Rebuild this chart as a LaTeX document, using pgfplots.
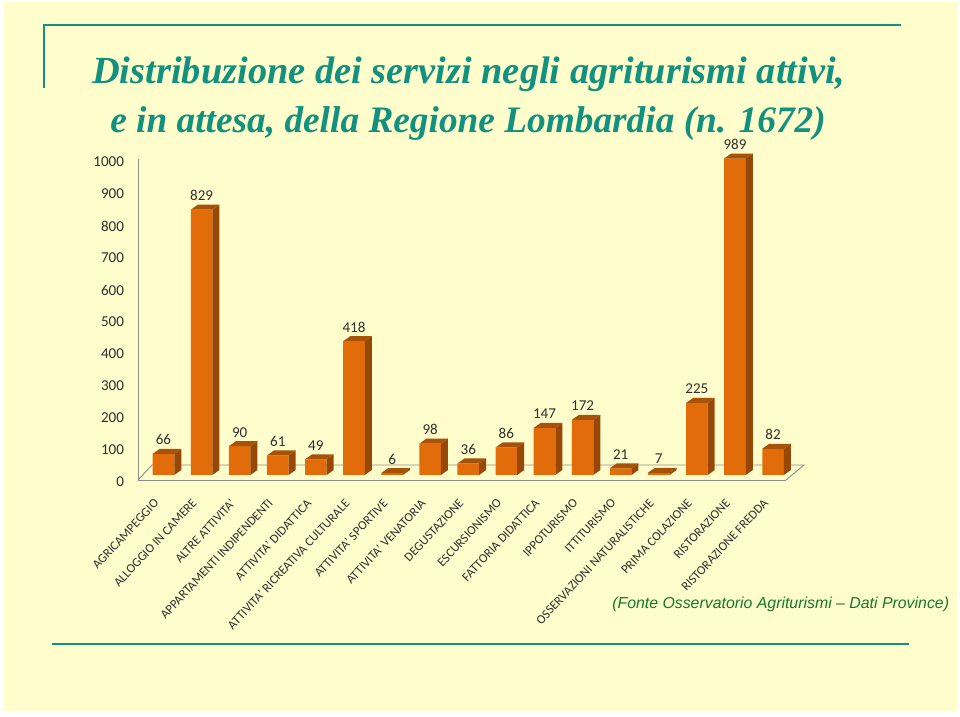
\documentclass[border=0pt]{standalone}
\usepackage{fontspec}
\setmainfont{Carlito}
\newfontfamily\titlefont{Liberation Serif}
\newfontfamily\notefont{Liberation Sans}
\usepackage{pgfplots}
\usepackage{pgfplotstable}
\pgfplotsset{compat=1.18}
\definecolor{slidebg}{HTML}{FFFDCC}
\definecolor{teal}{HTML}{12917F}
\definecolor{barfront}{HTML}{E36C0A}
\definecolor{barside}{HTML}{974806}
\definecolor{bartop}{HTML}{A65208}
\definecolor{axisgray}{HTML}{8E8E88}
\definecolor{inkgray}{HTML}{303030}
\definecolor{notegreen}{HTML}{14782A}

\pgfplotstableread{
x y
0 66
1 829
2 90
3 61
4 49
5 418
6 6
7 98
8 36
9 86
10 147
11 172
12 21
13 7
14 225
15 989
16 82
}\servizi

% side and top faces of a bar, drawn from the bar's front top centre
\pgfdeclareplotmark{bardepth}{%
  \pgfmathsetlengthmacro\barh{\barval*0.24pt}%
  \pgfsetfillcolor{barside}%
  \pgfpathmoveto{\pgfqpoint{8.1pt}{0pt}}%
  \pgfpathlineto{\pgfqpoint{13.35pt}{3.75pt}}%
  \pgfpathlineto{\pgfpoint{13.35pt}{3.75pt-\barh}}%
  \pgfpathlineto{\pgfpoint{8.1pt}{-\barh}}%
  \pgfpathclose
  \pgfusepathqfill
  \pgfsetfillcolor{bartop}%
  \pgfpathmoveto{\pgfqpoint{-8.1pt}{0pt}}%
  \pgfpathlineto{\pgfqpoint{-2.85pt}{3.75pt}}%
  \pgfpathlineto{\pgfqpoint{13.35pt}{3.75pt}}%
  \pgfpathlineto{\pgfqpoint{8.1pt}{0pt}}%
  \pgfpathclose
  \pgfusepathqfill
}

\begin{document}
\begin{tikzpicture}
\path[use as bounding box] (0,0) rectangle (720pt,537.75pt);
\fill[white] (0,0) rectangle (720pt,537.75pt);
\begin{scope}[x=0.75pt,y=-0.75pt,yshift=537.75pt]
  \fill[slidebg] (4,2) rectangle (957,711);
  \draw[teal,line width=2pt] (44,88) -- (44,25) -- (901,25);
  \draw[teal,line width=2pt] (52,644) -- (909,644);
  \node[anchor=base west,inner sep=0pt,text=teal,font=\titlefont\bfseries\itshape\fontsize{28.8pt}{32pt}\selectfont] at (92,84) {Distribuzione dei servizi negli agriturismi attivi,};
  \node[anchor=base west,inner sep=0pt,text=teal,font=\titlefont\bfseries\itshape\fontsize{28pt}{32pt}\selectfont] at (110,133) {e in attesa, della Regione Lombardia (n. 1672)};
  \node[anchor=base west,inner sep=0pt,text=notegreen,font=\notefont\itshape\fontsize{11.9pt}{14pt}\selectfont] at (612,609) {(Fonte Osservatorio Agriturismi – Dati Province)};
  % floor of the chart, behind the bars
  \draw[axisgray,line width=0.7pt] (138,480) -- (152,465) -- (804,465) -- (786,480);
\end{scope}
\begin{axis}[
  at={(103.5pt,177.75pt)}, anchor=south west,
  scale only axis, width=486pt, height=240.75pt,
  xmin=-0.669, xmax=16.34, ymin=-15.625, ymax=987.5,
  clip=false,
  /pgf/number format/assume math mode=true,
  axis x line=bottom, axis y line=left,
  axis line style={axisgray,-,line width=0.7pt},
  major tick length=0pt,
  xtick={0,...,16},
  xticklabels={AGRICAMPEGGIO,ALLOGGIO IN CAMERE,ALTRE ATTIVITA',APPARTAMENTI INDIPENDENTI,ATTIVITA' DIDATTICA,ATTIVITA' RICREATIVA CULTURALE,ATTIVITA' SPORTIVE,ATTIVITA' VENATORIA,DEGUSTAZIONE,ESCURSIONISMO,FATTORIA DIDATTICA,IPPOTURISMO,ITTITURISMO,OSSERVAZIONI NATURALISTICHE,PRIMA COLAZIONE,RISTORAZIONE,RISTORAZIONE FREDDA},
  x tick label style={rotate=47,anchor=north east,inner sep=0pt,xshift=-15pt,yshift=-3.5pt,font=\fontsize{9.5pt}{11pt}\selectfont,text=inkgray},
  ytick={-15.625,84.375,184.375,284.375,384.375,484.375,584.375,684.375,784.375,884.375,984.375},
  yticklabels={0,100,200,300,400,500,600,700,800,900,1000},
  y tick label style={xshift=-7pt,yshift=-1.5pt,font=\fontsize{11.3pt}{13pt}\selectfont,text=inkgray},
]
\addplot[scatter,only marks,mark=bardepth,visualization depends on={rawy\as\barval}] table[x=x,y=y] {\servizi};
\addplot[ybar,bar width=16.2pt,bar shift=0pt,fill=barfront,draw=none,
  nodes near coords,
  every node near coord/.append style={anchor=center,yshift=10.5pt,font=\fontsize{11.3pt}{13pt}\selectfont,text=inkgray}]
  table[x=x,y=y] {\servizi};
\end{axis}
\end{tikzpicture}
\end{document}
